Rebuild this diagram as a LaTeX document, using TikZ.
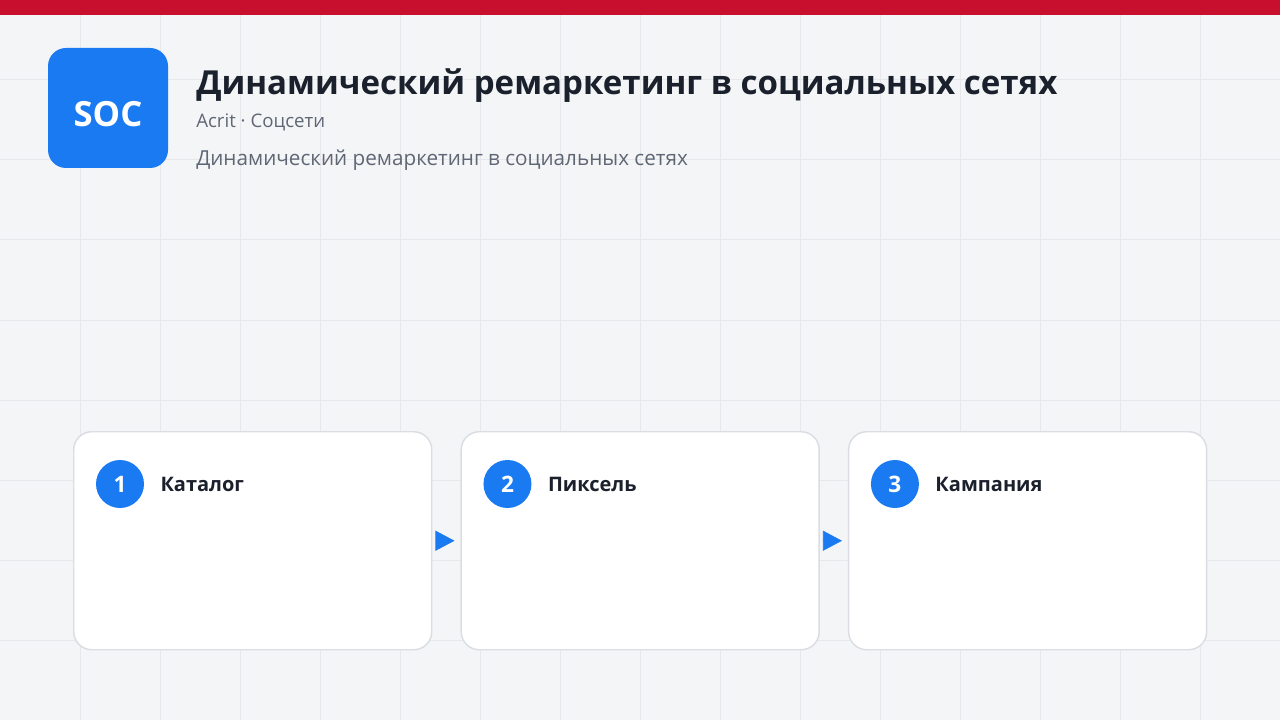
\documentclass[tikz,border=0pt]{standalone}
\usepackage{fontspec}
\setmainfont{Open Sans}
\usepackage{tikz}
\usetikzlibrary{arrows.meta}
\usetikzlibrary{positioning}
\usetikzlibrary{calc}
\definecolor{BarRed}{RGB}{200,16,46}
\definecolor{PrimaryBlue}{RGB}{26,122,242}
\definecolor{TitleInk}{RGB}{26,32,44}
\definecolor{MutedInk}{RGB}{95,103,117}
\definecolor{PageBg}{RGB}{244,245,247}
\definecolor{GridLine}{RGB}{230,232,236}
\definecolor{CardEdge}{RGB}{218,221,226}
\tikzstyle{card} = [draw=CardEdge, line width=1.1pt, fill=white, rounded corners=13.5pt, minimum width=268.5pt, minimum height=163.5pt, inner sep=0pt]
\tikzstyle{stepnum} = [circle, fill=PrimaryBlue, minimum size=36pt, inner sep=0pt, text=white, font=\fontsize{17}{20}\selectfont\bfseries]
\tikzstyle{steplabel} = [inner sep=0pt, text=TitleInk, font=\fontsize{15}{18}\selectfont\bfseries]
\tikzstyle{arrow} = [PrimaryBlue, line width=0.5pt, -{Triangle[length=14.25pt, width=15pt]}, shorten <=3pt, shorten >=4.5pt]

\begin{document}
\begin{tikzpicture}[x=0.75pt, y=-0.75pt]
    \useasboundingbox (0,0) rectangle (1280,720);
    % page and grid
    \fill[PageBg] (0,0) rectangle (1280,720);
    \foreach \gx in {80,160,...,1200}
        \draw[GridLine, line width=0.75pt] (\gx,15) -- (\gx,720);
    \foreach \gy in {80,160,...,640}
        \draw[GridLine, line width=0.75pt] (0,\gy) -- (1280,\gy);
    \fill[BarRed] (0,0) rectangle (1280,15);

    % header
    \node[fill=PrimaryBlue, rounded corners=13.5pt, minimum size=90pt, inner sep=0pt] (logo) at (108,108) {};
    \node[text=white, font=\fontsize{26}{30}\selectfont\bfseries, yshift=-4.5pt] (logotext) at (logo.center) {SOC};
    \node[anchor=base west, inner sep=0pt, text=TitleInk, font=\fontsize{24.8}{30}\selectfont\bfseries] (title) at (196,95) {Динамический ремаркетинг в социальных сетях};
    \node[anchor=base west, inner sep=0pt, text=MutedInk, font=\fontsize{14}{16}\selectfont] (source) at (196,128) {Acrit · Соцсети};
    \node[anchor=base west, inner sep=0pt, text=MutedInk, font=\fontsize{15.5}{18}\selectfont] (desc) at (196,166) {Динамический ремаркетинг в социальных сетях};

    % steps
    \node[card, anchor=north west] (c1) at (73,431) {};
    \node[card, right=21pt of c1] (c2) {};
    \node[card, right=21pt of c2] (c3) {};

    \node[stepnum] (n1) at ($(c1.north west)+(47,53)$) {1};
    \node[stepnum] (n2) at ($(c2.north west)+(47,53)$) {2};
    \node[stepnum] (n3) at ($(c3.north west)+(47,53)$) {3};

    \node[steplabel, right=12pt of n1] (t1) {Каталог};
    \node[steplabel, right=12pt of n2] (t2) {Пиксель};
    \node[steplabel, right=12pt of n3] (t3) {Кампания};

    \draw[arrow] (c1.east) -- (c2.west);
    \draw[arrow] (c2.east) -- (c3.west);
\end{tikzpicture}
\end{document}
